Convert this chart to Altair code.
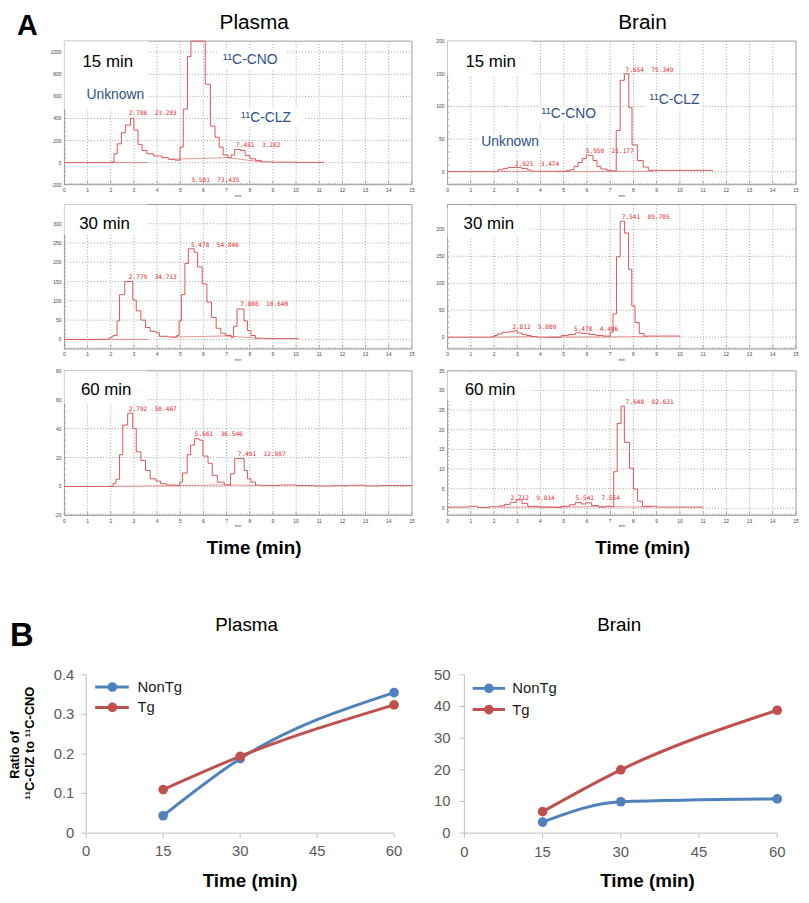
import altair as alt
import pandas as pd

# ---------------------------------------------------------------- data (A)
# Radio-HPLC step traces: retention time (min) / counts
p15_t = [0, 2.0, 2.14, 2.28, 2.46, 2.63, 2.85, 3.0, 3.18, 3.35, 3.56, 3.85, 4.2, 4.49, 4.77, 4.99, 5.13, 5.31, 5.46, 6.08,
         6.3, 6.5, 6.68, 6.85, 7.05, 7.2, 7.35, 7.6, 7.8, 8.0, 8.25, 8.5, 9.0, 10.0, 11.2]
p15_y = [0, 5, 80, 170, 270, 340, 400, 295, 165, 110, 80, 60, 45, 30, 22, 140, 485, 960, 1100, 710,
         330, 230, 140, 70, 45, 70, 120, 110, 65, 35, 20, 6, 4, 2, 2]
b15_t = [0, 2.17, 2.39, 2.6, 3.17, 3.45, 3.6, 5.1, 5.27, 5.44, 5.62, 5.8, 5.98, 6.26, 6.43, 6.6, 6.86, 7.05, 7.26, 7.43,
         7.61, 7.8, 7.94, 8.17, 8.42, 8.64, 11.4]
b15_y = [0, 3, 5, 6.5, 5, 2.5, 0.5, 1.5, 3, 8, 14, 20, 25, 17, 8, 4, 2, 1, 63, 140,
         150, 98, 41, 17, 7, 2, 1]
p30_t = [0, 1.9, 2.0, 2.1, 2.27, 2.38, 2.6, 2.95, 3.1, 3.3, 3.5, 3.7, 3.95, 4.1, 4.5, 4.85, 4.95, 5.05, 5.2, 5.35,
         5.6, 5.75, 5.95, 6.15, 6.35, 6.55, 6.75, 6.95, 7.2, 7.3, 7.45, 7.75, 7.9, 8.05, 8.25, 8.6, 10.1]
p30_y = [0, 3, 6, 10, 48, 116, 150, 102, 74, 50, 31, 21, 17, 8, 6, 10, 48, 116, 197, 235,
         226, 188, 144, 97, 57, 29, 16, 10, 5, 34, 79, 48, 23, 10, 3, 2, 1]
b30_t = [0, 1.9, 2.0, 2.15, 2.35, 2.65, 2.85, 3.0, 3.2, 3.4, 3.6, 3.85, 4.9, 5.2, 5.5, 5.8, 6.1, 6.4, 6.7, 7.0,
         7.12, 7.27, 7.43, 7.62, 7.79, 7.93, 8.07, 8.25, 8.45, 10.0]
b30_y = [0, 1, 3, 6, 9, 10, 12, 8, 5, 3, 1, 0, 3, 5, 8, 7, 5, 3, 2, 9,
         43, 149, 215, 193, 126, 58, 27, 7, 2, 0.5]
p60_t = [0, 2.1, 2.22, 2.38, 2.52, 2.73, 2.95, 3.1, 3.3, 3.5, 3.7, 3.95, 4.15, 4.4, 4.8, 4.98, 5.1, 5.3, 5.45, 5.62,
         5.83, 5.98, 6.2, 6.38, 6.6, 6.9, 7.17, 7.35, 7.76, 7.9, 8.05, 8.25, 8.5, 9.3, 10.0, 10.8, 11.5, 12.3, 13.0, 13.7,
         14.2, 15.0]
p60_y = [0, 2, 5, 22, 42.5, 50.7, 40, 24, 18, 11, 5.3, 3.7, 1.9, 1, 0.7, 3, 9.3, 22, 28.6, 33,
         32, 21, 16, 7.7, 3, 1, 8.8, 19.3, 11, 5.3, 3, 1, 0.7, 1, 0.6, 0.3, 0.5, 0.8, 0.4, 0.7,
         0.6, 0.5]
b60_t = [0, 0.9, 1.3, 1.8, 2.2, 2.45, 2.7, 2.95, 3.2, 3.45, 3.9, 4.6, 4.9, 5.25, 5.5, 5.75, 5.95, 6.2, 6.5, 6.8,
         7.05, 7.15, 7.3, 7.47, 7.61, 7.83, 8.0, 8.18, 8.39, 9.0, 11.0]
b60_y = [0.3, 0.5, 0.2, 0.4, 0.6, 1.0, 1.5, 2.2, 1.2, 0.5, 0.3, 0.2, 0.5, 0.9, 1.5, 1.1, 1.4, 0.7, 0.3, 0.5,
         0.4, 9.3, 21.6, 26, 16.8, 10.2, 4.9, 1.8, 0.5, 0.3, 0.3]

# integration baselines: (t0, v0, t1, v1)
p15_base = [(2.0, 0, 3.6, 0), (4.56, 30, 7.05, 45), (7.05, 45, 8.5, 6)]
b15_base = [(2.2, 0.5, 3.55, 0.5), (4.7, 0, 7.0, 0.5), (7.0, 0.5, 8.85, 0.5)]
p30_base = [(2.0, 0, 3.6, 0), (4.6, 6, 7.0, 9), (7.0, 9, 8.35, 3)]
b30_base = [(1.9, 0, 3.85, 1), (4.3, 0, 6.95, 0.5), (6.95, 0.5, 8.65, 1)]
p60_base = [(1.8, 0, 4.7, 0.5), (4.7, 0.5, 7.0, 1), (7.0, 1, 8.3, 0.7)]
b60_base = [(2.2, 0.3, 4.5, 0.3), (4.5, 0.3, 6.5, 0.4), (6.5, 0.4, 8.8, 0.3)]

# peak annotations (retention time, area %)
p15_ann = ["2.786\u00a0\u00a023.283", "7.481\u00a0\u00a03.282", "5.501\u00a0\u00a073.435"]
b15_ann = ["2.925\u00a0\u00a03.474", "5.950\u00a0\u00a021.177", "7.654\u00a0\u00a075.349"]
p30_ann = ["2.779\u00a0\u00a034.713", "5.478\u00a0\u00a054.846", "7.808\u00a0\u00a010.640"]
b30_ann = ["2.812\u00a0\u00a05.809", "5.478\u00a0\u00a04.486", "7.541\u00a0\u00a089.705"]
p60_ann = ["2.792\u00a0\u00a050.467", "5.661\u00a0\u00a036.546", "7.491\u00a0\u00a012.987"]
b60_ann = ["2.712\u00a0\u00a09.814", "5.541\u00a0\u00a07.554", "7.648\u00a0\u00a082.631"]

x_ticks = list(range(0, 16))
p15_yt = [-200, 0, 200, 400, 600, 800, 1000]
b15_yt = [0, 50, 100, 150, 200]
p30_yt = [0, 50, 100, 150, 200, 250, 300]
b30_yt = [0, 50, 100, 150, 200]
p60_yt = [-20, 0, 20, 40, 60, 80]
b60_yt = [0, 5, 10, 15, 20, 25, 30, 35]

# ---------------------------------------------------------------- data (B)
times = [15, 30, 60]
plasma_nontg = [0.044, 0.188, 0.355]
plasma_tg = [0.110, 0.194, 0.324]
brain_nontg = [3.5, 9.9, 10.8]
brain_tg = [6.8, 20.0, 38.8]
groups = ["NonTg", "Tg"]
ratio_x_ticks = [0, 15, 30, 45, 60]
plasma_y_ticks = [0, 0.1, 0.2, 0.3, 0.4]
plasma_y_labels = ["0", "0.1", "0.2", "0.3", "0.4"]
brain_y_ticks = [0, 10, 20, 30, 40, 50]
brain_y_labels = ["0", "10", "20", "30", "40", "50"]

# ---------------------------------------------------------------- style
FONT = "Liberation Sans"
MONO = "DejaVu Sans Mono"
TRACE = "#db5757"
ANN = "#e8262b"
NAVY = "#2f4f86"
GRID = "#8a8a8a"
FRAME = "#9c9c9c"
BLUE = "#4f81bd"
REDL = "#c0504d"
AXG = "#bfbfbf"
LABG = "#595959"


def X(f, sc):
    return alt.X(f, type="quantitative", scale=sc, axis=None)


def Y(f, sc):
    return alt.Y(f, type="quantitative", scale=sc, axis=None)


def txt(t, v, s, xs, ys, **mk):
    df = pd.DataFrame({"t": [t], "v": [v], "s": [s]})
    base = dict(font=FONT, baseline="alphabetic", align="left", color="black")
    base.update(mk)
    return alt.Chart(df).mark_text(**base).encode(x=X("t", xs), y=Y("v", ys), text="s:N")


def chrom(t, y, xr, yr, ydom, ylab, ann_text, ann_pos, boxes, bases, labels):
    xs = alt.Scale(domain=[0, 15], range=xr, nice=False, zero=False)
    ys = alt.Scale(domain=ydom, range=yr, nice=False, zero=False)
    y0, y1 = ydom
    vpp = (y1 - y0) / abs(yr[0] - yr[1])   # data units per pixel (y)
    tpp = 15.0 / abs(xr[1] - xr[0])        # data units per pixel (x)
    L = []
    vg = pd.DataFrame({"t": list(range(1, 15))})
    vg["a"] = y0
    vg["b"] = y1
    L.append(alt.Chart(vg).mark_rule(color=GRID, strokeWidth=0.8, strokeDash=[1, 2])
             .encode(x=X("t", xs), y=Y("a", ys), y2="b"))
    hg = pd.DataFrame({"v": [v for v in ylab if y0 < v < y1]})
    hg["a"] = 0
    hg["b"] = 15
    L.append(alt.Chart(hg).mark_rule(color=GRID, strokeWidth=0.8, strokeDash=[1, 2])
             .encode(y=Y("v", ys), x=X("a", xs), x2="b"))
    # minor ticks along the time axis
    n = 151
    mt = pd.DataFrame({"t": [i / 10 for i in range(n)]})
    mt["a"] = y0
    mt["b"] = [y0 + (4 if i % 10 == 0 else 1.6) * vpp for i in range(n)]
    L.append(alt.Chart(mt).mark_rule(color="#777777", strokeWidth=0.6)
             .encode(x=X("t", xs), y=Y("a", ys), y2="b"))
    # minor ticks along the count axis
    step = ylab[1] - ylab[0]
    k = int(round((y1 - y0) / (step / 5)))
    mvals = [y0 + i * step / 5 for i in range(k + 1) if y0 + i * step / 5 <= y1]
    my = pd.DataFrame({"v": mvals})
    my["a"] = 0
    my["b"] = 1.6 * tpp
    L.append(alt.Chart(my).mark_rule(color="#777777", strokeWidth=0.6)
             .encode(y=Y("v", ys), x=X("a", xs), x2="b"))
    fr = pd.DataFrame({"t0": [0], "t1": [15], "v0": [y0], "v1": [y1]})
    L.append(alt.Chart(fr).mark_rect(fill="transparent", stroke=FRAME, strokeWidth=1)
             .encode(x=X("t0", xs), x2="t1", y=Y("v0", ys), y2="v1"))
    bx = pd.DataFrame(boxes, columns=["t0", "t1", "v0", "v1"])
    L.append(alt.Chart(bx).mark_rect(color="white")
             .encode(x=X("t0", xs), x2="t1", y=Y("v0", ys), y2="v1"))
    rows = []
    for i, (a, b, c, d) in enumerate(bases):
        rows.append({"seg": i, "t": a, "v": b})
        rows.append({"seg": i, "t": c, "v": d})
    bs = pd.DataFrame(rows)
    L.append(alt.Chart(bs).mark_line(color=TRACE, strokeWidth=0.8, opacity=0.8)
             .encode(x=X("t", xs), y=Y("v", ys), detail="seg:N"))
    tr = pd.DataFrame({"t": t, "y": y})
    L.append(alt.Chart(tr).mark_line(interpolate="step-after", color=TRACE, strokeWidth=1)
             .encode(x=X("t", xs), y=Y("y", ys)))
    an = pd.DataFrame({"t": [p[0] for p in ann_pos], "v": [p[1] for p in ann_pos], "s": ann_text})
    L.append(alt.Chart(an).mark_text(font=MONO, fontSize=6.2, color=ANN, align="left", baseline="middle")
             .encode(x=X("t", xs), y=Y("v", ys), text="s:N"))
    yl = pd.DataFrame({"v": ylab, "s": [str(v) for v in ylab]})
    yl["a"] = 0
    L.append(alt.Chart(yl).mark_text(font=FONT, fontSize=5, color="#444444", align="right",
                                     baseline="middle", dx=-3)
             .encode(x=X("a", xs), y=Y("v", ys), text="s:N"))
    xl = pd.DataFrame({"t": x_ticks, "s": [str(v) for v in x_ticks]})
    xl["a"] = y0
    L.append(alt.Chart(xl).mark_text(font=FONT, fontSize=5, color="#444444", align="center",
                                     baseline="middle", dy=5.5)
             .encode(x=X("t", xs), y=Y("a", ys), text="s:N"))
    L.append(txt(7.5, y0, "min", xs, ys, fontSize=4, color="#444444", align="center",
                 baseline="middle", dy=11))
    for (lt, lv, s, mk) in labels:
        L.append(txt(lt, lv, s, xs, ys, **mk))
    return alt.layer(*L)


BIG = dict(fontSize=17)
CMP = dict(fontSize=14, color=NAVY)
TTL = dict(fontSize=21, align="center")
XT = dict(fontSize=19, fontWeight="bold", align="center")

PX = [57, 408]
BX = [444, 796]
R1 = [174, 29]
R2 = [340, 194]
R3 = [508, 362]

p15 = chrom(p15_t, p15_y, PX, R1, [-200, 1100], p15_yt, p15_ann,
            [(2.78, 448), (7.41, 161), (5.48, -158)],
            [(0, 3.6, 480, 1100), (6.6, 9.6, 850, 1030), (7.2, 10.4, 330, 490)], p15_base,
            [(-1.60, 1153.8, "A", dict(fontSize=29, fontWeight="bold", align="center")),
             (8.19, 1207.6, "Plasma", TTL),
             (0.78, 864, "15 min", BIG),
             (0.95, 580, "Unknown", CMP),
             (6.84, 894, "\u00b9\u00b9C-CNO", CMP),
             (7.62, 371, "\u00b9\u00b9C-CLZ", CMP)])
b15 = chrom(b15_t, b15_y, BX, R1, [-20, 200], b15_yt, b15_ann,
            [(2.90, 11.7), (5.95, 32), (7.66, 156)],
            [(0, 3.6, 147, 200), (1.3, 4.1, 32, 58), (3.9, 6.6, 76, 100), (8.5, 11.0, 99, 122)], b15_base,
            [(8.39, 218.2, "Brain", TTL),
             (0.77, 160, "15 min", BIG),
             (1.45, 38.7, "Unknown", CMP),
             (4.04, 81.7, "\u00b9\u00b9C-CNO", CMP),
             (8.69, 104.4, "\u00b9\u00b9C-CLZ", CMP)])
p30 = chrom(p30_t, p30_y, PX, R2, [-25, 350], p30_yt, p30_ann,
            [(2.78, 163), (5.46, 245), (7.59, 91)],
            [(0, 3.56, 272, 350)], p30_base,
            [(0.64, 286.6, "30 min", BIG)])
b30 = chrom(b30_t, b30_y, BX, R2, [-22, 246], b30_yt, b30_ann,
            [(2.78, 17.9), (5.44, 14.8), (7.5, 223)],
            [(0, 3.6, 185, 240)], b30_base,
            [(0.69, 200.7, "30 min", BIG)])
p60 = chrom(p60_t, p60_y, PX, R3, [-20, 80], p60_yt, p60_ann,
            [(2.78, 53.7), (5.63, 36.3), (7.48, 22.3)],
            [(0, 3.56, 57, 80)], p60_base,
            [(0.71, 63.4, "60 min", BIG),
             (8.19, -46.7, "Time (min)", XT)])
b60 = chrom(b60_t, b60_y, BX, R3, [-1.8, 35], b60_yt, b60_ann,
            [(2.71, 2.7), (5.51, 2.5), (7.67, 27.1)],
            [(0, 3.6, 27.5, 34.6)], b60_base,
            [(0.74, 28.87, "60 min", BIG),
             (8.40, -11.63, "Time (min)", XT)])


def ratio(xr, yr, ymax, yt, ylabels, nontg, tg, leg, ydx, xdy, labels):
    xs = alt.Scale(domain=[0, 60], range=xr, nice=False, zero=False)
    ys = alt.Scale(domain=[0, ymax], range=yr, nice=False, zero=False)
    tpp = 60.0 / abs(xr[1] - xr[0])
    vpp = ymax / abs(yr[0] - yr[1])
    col = alt.Color("g:N", scale=alt.Scale(domain=groups, range=[BLUE, REDL]), legend=None)
    L = []
    ax = pd.DataFrame({"t0": [0, 0], "t1": [0, 60], "v0": [0, 0], "v1": [ymax, 0]})
    L.append(alt.Chart(ax).mark_rule(color=AXG, strokeWidth=1)
             .encode(x=X("t0", xs), x2="t1", y=Y("v0", ys), y2="v1"))
    ytk = pd.DataFrame({"v": yt, "s": ylabels})
    ytk["a"] = -5 * tpp
    ytk["b"] = 0
    L.append(alt.Chart(ytk).mark_rule(color=AXG, strokeWidth=1)
             .encode(y=Y("v", ys), x=X("a", xs), x2="b"))
    L.append(alt.Chart(ytk).mark_text(font=FONT, fontSize=15, color=LABG, align="right",
                                      baseline="middle", dx=ydx)
             .encode(y=Y("v", ys), x=X("b", xs), text="s:N"))
    xtk = pd.DataFrame({"t": ratio_x_ticks, "s": [str(v) for v in ratio_x_ticks]})
    xtk["a"] = -5 * vpp
    xtk["b"] = 0
    L.append(alt.Chart(xtk).mark_rule(color=AXG, strokeWidth=1)
             .encode(x=X("t", xs), y=Y("a", ys), y2="b"))
    L.append(alt.Chart(xtk).mark_text(font=FONT, fontSize=15, color=LABG, align="center",
                                      baseline="middle", dy=xdy)
             .encode(x=X("t", xs), y=Y("b", ys), text="s:N"))
    d = pd.DataFrame({"time": times * 2, "val": nontg + tg, "g": ["NonTg"] * 3 + ["Tg"] * 3})
    L.append(alt.Chart(d).mark_line(interpolate="monotone", strokeWidth=3)
             .encode(x=X("time", xs), y=Y("val", ys), color=col))
    L.append(alt.Chart(d).mark_circle(size=95, opacity=1)
             .encode(x=X("time", xs), y=Y("val", ys), color=col))
    lg = pd.DataFrame({"g": groups, "x0": [leg[0]] * 2, "x1": [leg[1]] * 2, "xm": [leg[2]] * 2,
                       "xt": [leg[3]] * 2, "v": [leg[4], leg[5]]})
    L.append(alt.Chart(lg).mark_rule(strokeWidth=3)
             .encode(x=X("x0", xs), x2="x1", y=Y("v", ys), color=col))
    L.append(alt.Chart(lg).mark_circle(size=95, opacity=1)
             .encode(x=X("xm", xs), y=Y("v", ys), color=col))
    L.append(alt.Chart(lg).mark_text(font=FONT, fontSize=15, color="#1a1a1a", align="left",
                                     baseline="middle")
             .encode(x=X("xt", xs), y=Y("v", ys), text="g:N"))
    for (lt, lv, s, mk) in labels:
        L.append(txt(lt, lv, s, xs, ys, **mk))
    return alt.layer(*L)


YT = dict(fontSize=13, fontWeight="bold", angle=270, align="center", baseline="middle")
rp = ratio([79, 390], [829, 669], 0.4, plasma_y_ticks, plasma_y_labels, plasma_nontg, plasma_tg,
           (1.74, 8.3, 5.1, 10.0, 0.369, 0.3175), -12, 18,
           [(-12.54, 0.4725, "B", dict(fontSize=33, fontWeight="bold", align="center")),
            (31.26, 0.51, "Plasma", dict(fontSize=19, align="center")),
            (31.93, -0.137, "Time (min)", XT),
            (-13.89, 0.1975, "Ratio of", YT),
            (-10.90, 0.2275, "\u00b9\u00b9C-ClZ to \u00b9\u00b9C-CNO", YT)])
rb = ratio([461, 777], [829, 669], 50, brain_y_ticks, brain_y_labels, brain_nontg, brain_tg,
           (1.58, 7.78, 4.7, 9.17, 45.7, 39.0), -14, 19.5,
           [(29.7, 63.75, "Brain", dict(fontSize=19, align="center")),
            (35.12, -17.1, "Time (min)", XT)])

chart = (
    alt.layer(p15, b15, p30, b30, p60, b60, rp, rb)
    .resolve_scale(x="independent", y="independent")
    .properties(width=801, height=887, padding=0, autosize=alt.AutoSizeParams(type="none"))
    .configure_view(stroke=None)
)

chart.save("out.html", embed_options={"renderer": "svg", "actions": False})
